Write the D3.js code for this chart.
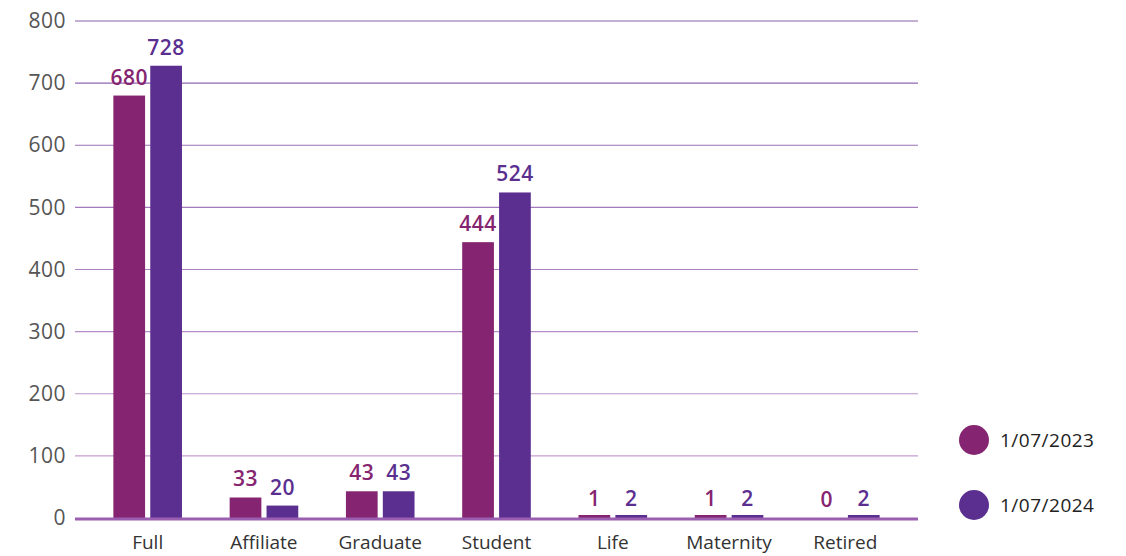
<!DOCTYPE html>
<html>
<head>
<meta charset="utf-8">
<script src="https://cdn.jsdelivr.net/npm/d3@7"></script>
<style>
  body { margin: 0; background: #fff; }
  text { font-family: "Open Sans", "Lato", sans-serif; }
</style>
</head>
<body>
<script>
var width = 1126;
var height = 556;

// membership categories and counts
var categories = ["Full", "Affiliate", "Graduate", "Student", "Life", "Maternity", "Retired"];
var seriesNames = ["1/07/2023", "1/07/2024"];
var values2023 = [680, 33, 43, 444, 1, 1, 0];
var values2024 = [728, 20, 43, 524, 2, 2, 2];
var yTicks = [0, 100, 200, 300, 400, 500, 600, 700, 800];
var colors = ["#852470", "#5b2f90"];

var svg = d3.select("body").append("svg").attr("width", width).attr("height", height);

var y = d3.scaleLinear().domain([0, 800]).range([518, 21]);
var x0 = d3.scaleBand().domain(categories).range([75, 918]).paddingInner(0.41).paddingOuter(0.33);
var x1 = d3.scaleBand().domain(seriesNames).range([0, x0.bandwidth()]).paddingInner(0.14);

var gridColor = d3.scaleLinear().domain([0, 800]).range(["#cda6d6", "#8a60aa"]);

// gridlines
svg.append("g").selectAll("line")
  .data(yTicks.filter(function(d) { return d > 0; }))
  .enter().append("line")
  .attr("x1", 75).attr("x2", 918)
  .attr("y1", function(d) { return y(d); })
  .attr("y2", function(d) { return y(d); })
  .attr("stroke", function(d) { return gridColor(d); })
  .attr("stroke-width", 1.2);

// y axis labels
var yAxis = d3.axisLeft(y).tickValues(yTicks).tickSize(0).tickPadding(9);
var ya = svg.append("g").attr("transform", "translate(75,0)").call(yAxis);
ya.select(".domain").remove();
ya.selectAll("text").attr("font-size", 21).attr("fill", "#555")
  .attr("font-family", "'Open Sans', sans-serif").attr("letter-spacing", "0.5px");

var rows = categories.map(function(c, i) {
  return { cat: c, vals: [values2023[i], values2024[i]] };
});

var groups = svg.append("g").selectAll("g")
  .data(rows).enter().append("g")
  .attr("transform", function(d) { return "translate(" + x0(d.cat) + ",0)"; });

groups.selectAll("rect")
  .data(function(d) { return d.vals.map(function(v, i) { return { s: seriesNames[i], v: v, i: i }; }); })
  .enter().append("rect")
  .filter(function(d) { return d.v > 0; })
  .attr("x", function(d) { return x1(d.s); })
  .attr("width", x1.bandwidth())
  .attr("y", function(d) { return Math.min(y(d.v), y(0) - 3); })
  .attr("height", function(d) { return Math.max(y(0) - y(d.v), 3); })
  .attr("fill", function(d) { return colors[d.i]; });

groups.selectAll("text.val")
  .data(function(d) { return d.vals.map(function(v, i) { return { s: seriesNames[i], v: v, i: i }; }); })
  .enter().append("text")
  .attr("class", "val")
  .attr("x", function(d) { return x1(d.s) + x1.bandwidth() / 2; })
  .attr("y", function(d) { return y(d.v) - 11; })
  .attr("text-anchor", "middle")
  .attr("font-size", 21)
  .attr("font-weight", 600)
  .attr("letter-spacing", "0.5px")
  .attr("fill", function(d) { return colors[d.i]; })
  .text(function(d) { return d.v; });

// baseline
svg.append("line")
  .attr("x1", 75).attr("x2", 918)
  .attr("y1", y(0) + 1).attr("y2", y(0) + 1)
  .attr("stroke", "#9a5fb0").attr("stroke-width", 3);

// category labels
var xAxis = d3.axisBottom(x0).tickSize(0).tickPadding(18);
var xa = svg.append("g").attr("transform", "translate(0," + y(0) + ")").call(xAxis);
xa.select(".domain").remove();
xa.selectAll("text").attr("font-size", 19).attr("fill", "#333")
  .attr("font-family", "'Open Sans', sans-serif");

// legend
var legend = svg.append("g").selectAll("g")
  .data(seriesNames).enter().append("g")
  .attr("transform", function(d, i) { return "translate(974," + (440 + i * 65) + ")"; });
legend.append("circle").attr("r", 15).attr("fill", function(d, i) { return colors[i]; });
legend.append("text").attr("x", 26).attr("dy", "0.35em")
  .attr("font-size", 19).attr("fill", "#222").attr("letter-spacing", "0.5px")
  .text(function(d) { return d; });
</script>
</body>
</html>
